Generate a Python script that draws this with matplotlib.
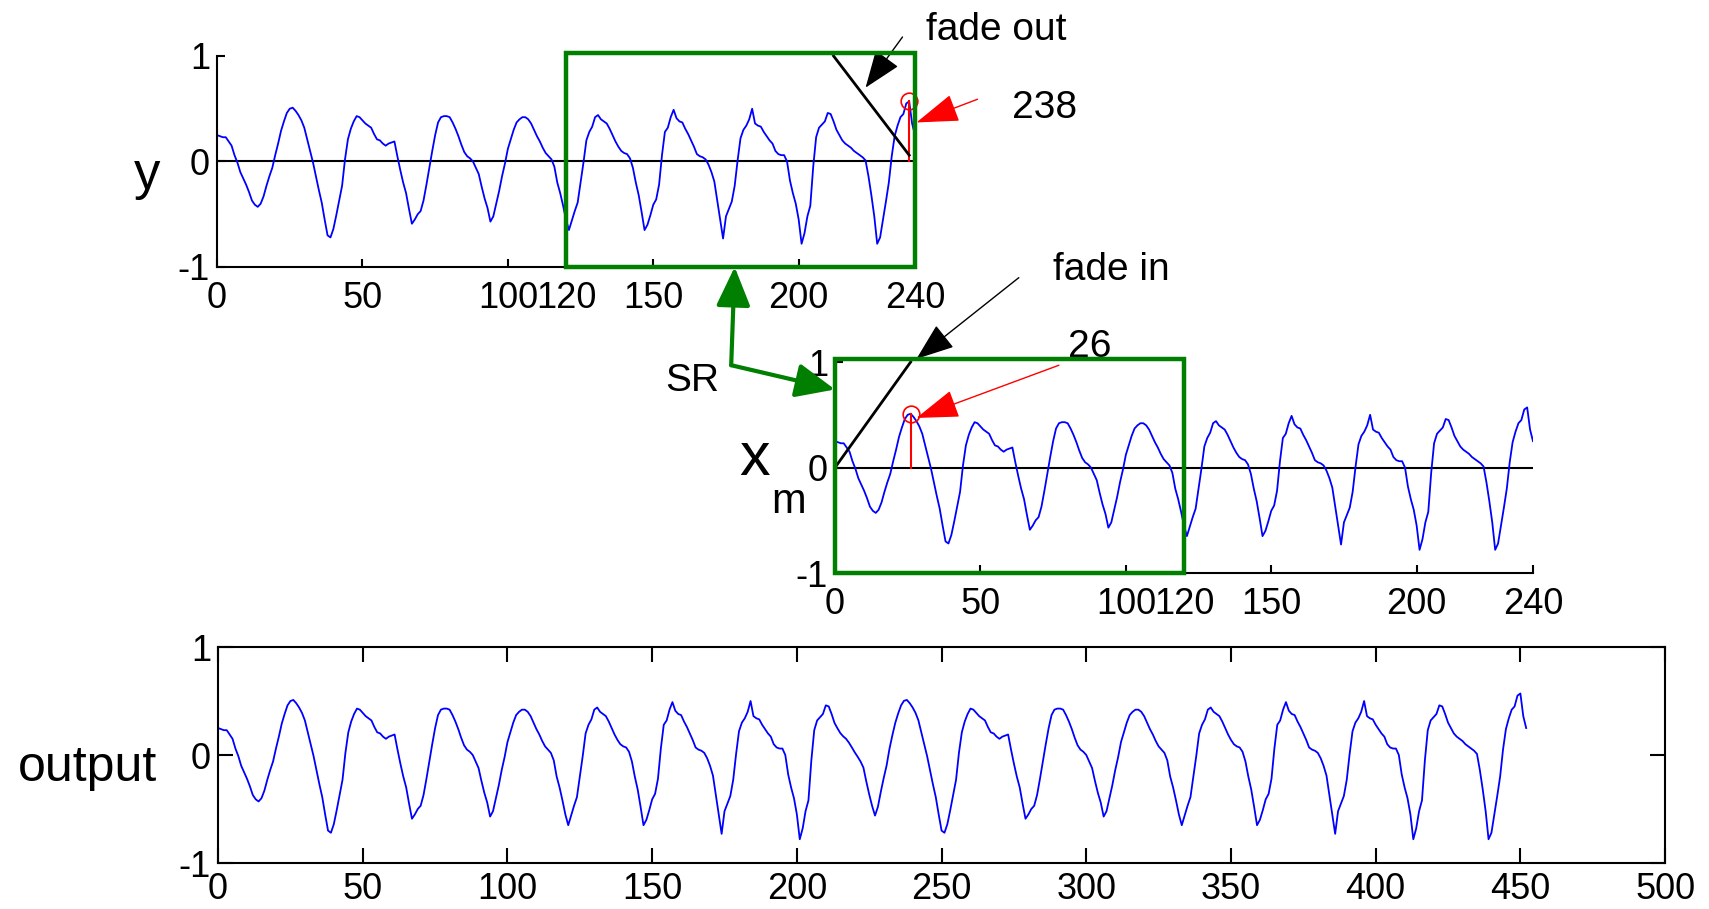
import matplotlib
matplotlib.use("Agg")
import matplotlib.pyplot as plt
from matplotlib.patches import Rectangle

####signal y, read sample by sample off the top panel (samples 0..240)
y_vals = [0.25, 0.24, 0.23, 0.23, 0.19, 0.15, 0.06, -0.01, -0.10, -0.16,
          -0.22, -0.29, -0.37, -0.41, -0.43, -0.40, -0.33, -0.23, -0.14, -0.06,
          0.06, 0.17, 0.29, 0.38, 0.46, 0.50, 0.51, 0.48, 0.44, 0.39,
          0.32, 0.21, 0.10, -0.01, -0.14, -0.27, -0.39, -0.55, -0.70, -0.72,
          -0.64, -0.51, -0.37, -0.23, 0.02, 0.21, 0.31, 0.38, 0.43, 0.42,
          0.39, 0.36, 0.34, 0.32, 0.26, 0.21, 0.20, 0.17, 0.15, 0.17,
          0.18, 0.19, 0.05, -0.08, -0.20, -0.30, -0.45, -0.59, -0.55, -0.50,
          -0.47, -0.37, -0.22, -0.06, 0.10, 0.25, 0.37, 0.42, 0.43, 0.43,
          0.42, 0.37, 0.31, 0.24, 0.16, 0.09, 0.05, 0.03, 0.00, -0.06,
          -0.12, -0.24, -0.35, -0.44, -0.57, -0.52, -0.40, -0.28, -0.14, -0.02,
          0.12, 0.21, 0.30, 0.37, 0.40, 0.42, 0.42, 0.40, 0.36, 0.30,
          0.24, 0.19, 0.13, 0.08, 0.05, 0.02, -0.05, -0.20, -0.30, -0.42,
          -0.55, -0.65, -0.56, -0.47, -0.39, -0.20, -0.01, 0.20, 0.28, 0.33,
          0.42, 0.44, 0.40, 0.38, 0.36, 0.31, 0.25, 0.19, 0.14, 0.10,
          0.08, 0.07, 0.03, -0.06, -0.20, -0.32, -0.48, -0.65, -0.60, -0.51,
          -0.41, -0.36, -0.22, 0.06, 0.28, 0.32, 0.42, 0.49, 0.41, 0.38,
          0.37, 0.31, 0.26, 0.20, 0.14, 0.07, 0.05, 0.04, 0.02, -0.03,
          -0.10, -0.19, -0.37, -0.55, -0.73, -0.52, -0.45, -0.38, -0.23, 0.01,
          0.22, 0.30, 0.34, 0.40, 0.50, 0.36, 0.34, 0.33, 0.28, 0.24,
          0.20, 0.17, 0.10, 0.07, 0.06, 0.06, 0.00, -0.18, -0.30, -0.40,
          -0.55, -0.78, -0.68, -0.52, -0.42, -0.05, 0.23, 0.32, 0.35, 0.38,
          0.46, 0.45, 0.38, 0.30, 0.25, 0.20, 0.17, 0.15, 0.13, 0.10,
          0.08, 0.06, 0.04, 0.01, -0.14, -0.32, -0.52, -0.78, -0.72, -0.55,
          -0.38, -0.20, 0.05, 0.24, 0.34, 0.42, 0.45, 0.55, 0.57, 0.36,
          0.25]

####x_m in the middle panel is the same segment as y
xm_vals = list(y_vals)

####synchronisation: fade-out of y starts at 212, match point 238 in y / 26 in x_m
fade_start = 212
match_y = 238
match_xm = 26
fade_out_t = [212, 238]
fade_out_v = [1.0, 0.06]
fade_in_t = [0, 26]
fade_in_v = [0.0, 1.0]

top_ticks = [0, 50, 100, 120, 150, 200, 240]
out_ticks = [0, 50, 100, 150, 200, 250, 300, 350, 400, 450, 500]

####output = y up to the fade, overlap-add, then the rest of x_m
L = match_y - fade_start
output = y_vals[:fade_start]
for k in range(L):
    w = k / L
    output.append(y_vals[fade_start + k] * (1 - w) + xm_vals[k] * w)
output += xm_vals[match_xm:]

blue = "#0000ff"
green = "#007f00"
tick_font = ["Liberation Sans Narrow", "Liberation Sans", "DejaVu Sans"]
text_font = ["Liberation Sans", "DejaVu Sans"]

fig = plt.figure(figsize=(17.09, 9.09), dpi=100)
ax_top = fig.add_axes([0.127, 0.7063, 0.4084, 0.2321])
ax_mid = fig.add_axes([0.4886, 0.3696, 0.4084, 0.2321])
ax_out = fig.add_axes([0.1276, 0.0506, 0.8467, 0.2376])


def style_axes(ax, ticks, xmax, full_box, tlen, xpad):
    ax.set_xlim(0, xmax)
    ax.set_ylim(-1, 1)
    ax.set_xticks(ticks)
    ax.set_yticks([-1, 0, 1])
    ax.set_yticklabels(["-1", "0", "1"])
    ax.patch.set_alpha(0)
    for s in ax.spines.values():
        s.set_linewidth(1.5)
    if not full_box:
        ax.spines["top"].set_visible(False)
        ax.spines["right"].set_visible(False)
    ax.tick_params(direction="in", length=tlen, width=1.5, labelsize=26,
                   top=full_box, right=full_box, pad=5)
    ax.tick_params(axis="x", pad=xpad)
    for lab in ax.get_xticklabels() + ax.get_yticklabels():
        lab.set_family(tick_font)


####top panel y
style_axes(ax_top, top_ticks, 240, False, 6, 10)
ax_top.axhline(0, color="k", lw=1.5, zorder=1)
ax_top.plot(range(len(y_vals)), y_vals, color=blue, lw=1.3, zorder=2)
ax_top.plot([match_y, match_y], [0, y_vals[match_y]], color="r", lw=1.5, zorder=3)
ax_top.plot(match_y, y_vals[match_y], "o", mfc="none", mec="r", ms=12, mew=1.2,
            zorder=3, clip_on=False)
ax_top.plot(fade_out_t, fade_out_v, color="k", lw=2, zorder=4, clip_on=False)
ax_top.add_patch(Rectangle((120, -1), 120, 2.03, fill=False, ec=green, lw=3.2,
                           zorder=5, clip_on=False))

####middle panel x_m
style_axes(ax_mid, top_ticks, 240, False, 6, 10)
ax_mid.axhline(0, color="k", lw=1.5, zorder=1)
ax_mid.plot(range(len(xm_vals)), xm_vals, color=blue, lw=1.3, zorder=2)
ax_mid.plot([match_xm, match_xm], [0, xm_vals[match_xm]], color="r", lw=1.5, zorder=3)
ax_mid.plot(match_xm, xm_vals[match_xm], "o", mfc="none", mec="r", ms=12, mew=1.2,
            zorder=3)
ax_mid.plot(fade_in_t, fade_in_v, color="k", lw=2, zorder=4, clip_on=False)
ax_mid.add_patch(Rectangle((0, -1), 120, 2.03, fill=False, ec=green, lw=3.2,
                           zorder=5, clip_on=False))

####bottom panel output
style_axes(ax_out, out_ticks, 500, True, 11, 6.5)
ax_out.plot(range(len(output)), output, color=blue, lw=1.3)

####labels
fig.text(0.086, 0.808, "y", fontsize=38, family=text_font, ha="center", va="center")
fig.text(0.4413, 0.494, "x", fontsize=44, family=text_font, ha="center", va="center")
fig.text(0.4617, 0.448, "m", fontsize=30, family=text_font, ha="center", va="center")
fig.text(0.051, 0.155, "output", fontsize=36, family=text_font, ha="center",
         va="center")

####annotations
thin_head = "-|>,head_length=0.9,head_width=0.3"
ax_top.annotate("", xy=(240.5, 0.37), xytext=(261.5, 0.59), annotation_clip=False,
                arrowprops=dict(arrowstyle=thin_head, color="r", lw=1,
                                mutation_scale=30, shrinkA=0, shrinkB=0))
ax_top.text(284.5, 0.51, str(match_y), fontsize=28, family=text_font,
            ha="center", va="center", clip_on=False)
ax_top.annotate("", xy=(223, 0.70), xytext=(235.7, 1.18), annotation_clip=False,
                arrowprops=dict(arrowstyle="-|>,head_length=0.8,head_width=0.3",
                                color="k", lw=1, mutation_scale=30,
                                shrinkA=0, shrinkB=0))
ax_top.text(268, 1.25, "fade out", fontsize=28, family=text_font,
            ha="center", va="center", clip_on=False)

ax_mid.annotate("", xy=(28, 0.47), xytext=(77, 0.97), annotation_clip=False,
                arrowprops=dict(arrowstyle=thin_head, color="r", lw=1,
                                mutation_scale=30, shrinkA=0, shrinkB=0))
ax_mid.text(87.6, 1.14, str(match_xm), fontsize=28, family=text_font,
            ha="center", va="center", clip_on=False)
ax_mid.annotate("", xy=(28, 1.03), xytext=(63.2, 1.80), annotation_clip=False,
                arrowprops=dict(arrowstyle="-|>,head_length=0.8,head_width=0.3",
                                color="k", lw=1, mutation_scale=30,
                                shrinkA=0, shrinkB=0))
ax_mid.text(95, 1.87, "fade in", fontsize=28, family=text_font,
            ha="center", va="center", clip_on=False)

####SR arrow joining the two green windows
corner = (-35.7, 0.97)
green_head = "-|>,head_length=0.8,head_width=0.35"
ax_mid.annotate("", xy=(178, -1), xycoords=ax_top.transData,
                xytext=corner, textcoords=ax_mid.transData, annotation_clip=False,
                arrowprops=dict(arrowstyle=green_head, color=green, lw=3,
                                mutation_scale=30, shrinkA=0, shrinkB=0))
ax_mid.annotate("", xy=(0, 0.74), xytext=corner, annotation_clip=False,
                arrowprops=dict(arrowstyle=green_head, color=green, lw=3,
                                mutation_scale=30, shrinkA=0, shrinkB=0))
ax_mid.text(-49, 0.82, "SR", fontsize=28, family=text_font,
            ha="center", va="center", clip_on=False)

fig.savefig("out.png", dpi=100)
